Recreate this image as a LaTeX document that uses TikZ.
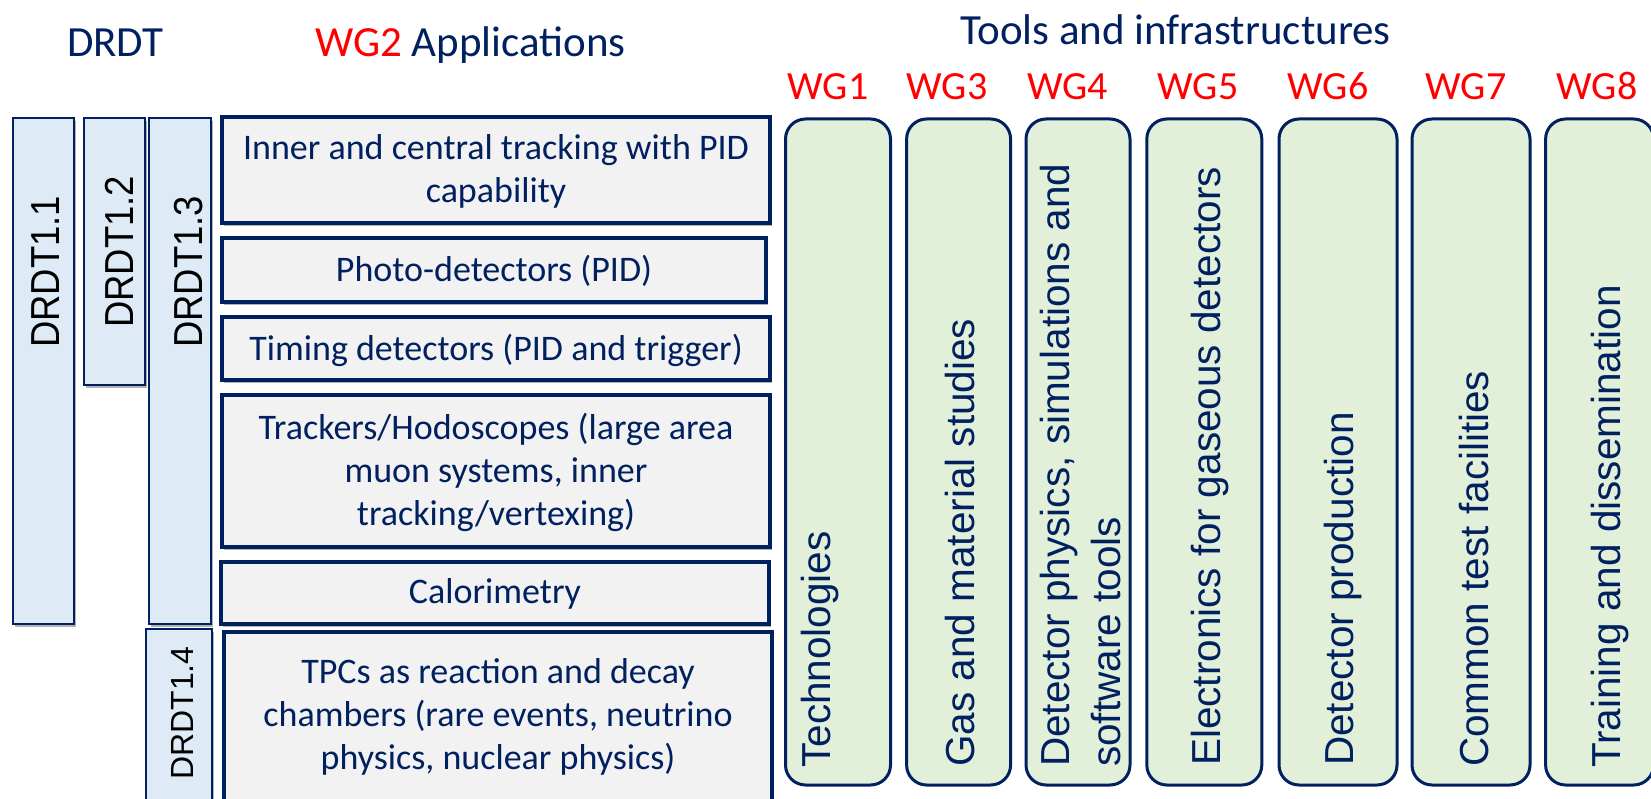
\documentclass[tikz,border=0pt]{standalone}
\usepackage{fontspec}
\setmainfont{Carlito}
\newfontfamily\greenfont{Liberation Sans}
\newfontfamily\drdtfont[FakeStretch=0.9]{Liberation Sans}
\newfontfamily\drdtsmallfont{Liberation Sans}
\usetikzlibrary{shadows}
\definecolor{navy}{RGB}{0,32,96}
\definecolor{appgray}{RGB}{242,242,242}
\definecolor{lightblue}{RGB}{222,235,247}
\definecolor{lightgreen}{RGB}{226,240,217}
\definecolor{wgred}{RGB}{255,0,0}
\begin{document}
\begin{tikzpicture}[x=1pt,y=-1pt,
  boxshadow/.style={drop shadow={shadow xshift=1.5pt,shadow yshift=-3pt,opacity=0.3,fill=black}},
  appbox/.style={rectangle,draw=navy,line width=3.5pt,fill=appgray,inner sep=0pt,boxshadow},
  drdtbox/.style={rectangle,draw=navy,line width=2.5pt,fill=lightblue,inner sep=0pt,boxshadow},
  wgbox/.style={rectangle,rounded corners=20pt,draw=navy,line width=3pt,fill=lightgreen,inner sep=0pt},
  apptext/.style={inner sep=0pt,text=navy,align=center,font={\fontsize{36}{43}\selectfont}},
  title/.style={inner sep=0pt,text=navy,font={\fontsize{43}{50}\selectfont}},
  wglabel/.style={inner sep=0pt,text=wgred,font={\fontsize{40}{48}\selectfont}},
  drdttext/.style={inner sep=0pt,text=black,rotate=90,anchor=base west,font={\drdtfont\fontsize{40.5}{48}\selectfont}},
  drdtsmall/.style={inner sep=0pt,text=black,rotate=90,anchor=base west,font={\drdtsmallfont\fontsize{32}{38}\selectfont}},
  wgtext/.style={inner sep=0pt,text=navy,rotate=90,anchor=base west,align=left,font={\greenfont\fontsize{40.5}{51}\selectfont}}
]
\useasboundingbox (0,0) rectangle (1651,799);

% titles
\node[title,anchor=base west] (tdrdt) at (67,57) {DRDT};
\node[title,anchor=base west] (tapp) at (315,57) {\textcolor{wgred}{WG2} Applications};
\node[title,anchor=base west] (ttools) at (960,45) {Tools and infrastructures};

% WG labels
\node[wglabel,anchor=base] (l1) at (828,100) {WG1};
\node[wglabel,anchor=base] (l3) at (947,100) {WG3};
\node[wglabel,anchor=base] (l4) at (1067.5,100) {WG4};
\node[wglabel,anchor=base] (l5) at (1198,100) {WG5};
\node[wglabel,anchor=base] (l6) at (1328,100) {WG6};
\node[wglabel,anchor=base] (l7) at (1466,100) {WG7};
\node[wglabel,anchor=base] (l8) at (1597,100) {WG8};

% DRDT boxes
\node[drdtbox,minimum width=61pt,minimum height=506pt] (d11) at (43.5,371) {};
\node[drdtbox,minimum width=61pt,minimum height=267pt] (d12) at (114.5,251.5) {};
\node[drdtbox,minimum width=62pt,minimum height=506pt] (d13) at (180,371) {};
\node[drdtbox,minimum width=66pt,minimum height=181pt] (d14) at (179,719.5) {};
\node[drdttext] (d11t) at (59,348) {DRDT1.1};
\node[drdttext] (d12t) at (133,328) {DRDT1.2};
\node[drdttext] (d13t) at (202,348) {DRDT1.3};
\node[drdtsmall] (d14t) at (193,780) {DRDT1.4};

% application boxes
\node[appbox,minimum width=548pt,minimum height=106pt] (a1) at (496,170) {};
\node[appbox,minimum width=544pt,minimum height=64pt] (a2) at (494,270) {};
\node[appbox,minimum width=548pt,minimum height=63pt] (a3) at (496,348.5) {};
\node[appbox,minimum width=548pt,minimum height=152pt] (a4) at (496,471) {};
\node[appbox,minimum width=548pt,minimum height=62pt] (a5) at (495,593) {};
\node[appbox,minimum width=548pt,minimum height=172pt] (a6) at (498,718) {};
\node[apptext,anchor=base] (a1t) at (496,203) {Inner and central tracking with PID\\capability};
\node[apptext,anchor=base] (a2t) at (494,282) {Photo-detectors (PID)};
\node[apptext,anchor=base] (a3t) at (496,360) {Timing detectors (PID and trigger)};
\node[apptext,anchor=base] (a4t) at (496,525) {Trackers/Hodoscopes (large area\\muon systems, inner\\tracking/vertexing)};
\node[apptext,anchor=base] (a5t) at (495,603) {Calorimetry};
\node[apptext,anchor=base] (a6t) at (498,769) {TPCs as reaction and decay\\chambers (rare events, neutrino\\physics, nuclear physics)};

% WG boxes
\node[wgbox,minimum width=105pt,minimum height=666pt] (g1) at (838,452) {};
\node[wgbox,minimum width=104pt,minimum height=666pt] (g3) at (958.6,452) {};
\node[wgbox,minimum width=104pt,minimum height=666pt] (g4) at (1078,452) {};
\node[wgbox,minimum width=115pt,minimum height=666pt] (g5) at (1204.3,452) {};
\node[wgbox,minimum width=118pt,minimum height=666pt] (g6) at (1338,452) {};
\node[wgbox,minimum width=118pt,minimum height=666pt] (g7) at (1471,452) {};
\node[wgbox,minimum width=108pt,minimum height=666pt] (g8) at (1599.6,452) {};
\node[wgtext] (g1t) at (830,768) {Technologies};
\node[wgtext] (g3t) at (974,767) {Gas and material studies};
\node[wgtext] (g4t) at (1120,767) {Detector physics, simulations and\\software tools};
\node[wgtext] (g5t) at (1220,766) {Electronics for gaseous detectors};
\node[wgtext] (g6t) at (1353,766) {Detector production};
\node[wgtext] (g7t) at (1488,767) {Common test facilities};
\node[wgtext] (g8t) at (1620,768) {Training and dissemination};
\end{tikzpicture}
\end{document}
